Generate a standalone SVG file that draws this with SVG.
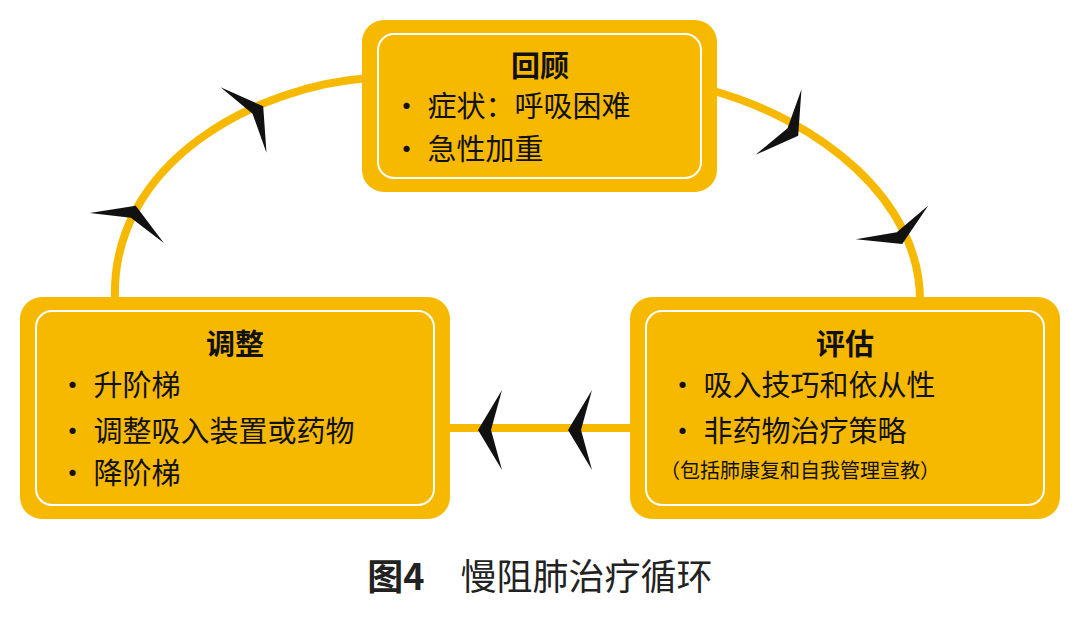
<svg xmlns="http://www.w3.org/2000/svg" width="1080" height="625" viewBox="0 0 1080 625">
<style>
.box{fill:#F7B900}
.inner{fill:none;stroke:#fff;stroke-width:2}
.t{font-family:"Noto Sans CJK SC","Noto Sans",sans-serif;font-size:29px;fill:#111}
.h{font-weight:bold}
.s{font-size:20px}
.cyc{fill:none;stroke:#F7B900;stroke-width:8}
</style>
<defs><path id="chev" d="M-14,-40 L10,0 L-14,40 L-3,0 Z" fill="#111"/></defs>
<rect width="1080" height="625" fill="#fff"/>
<g id="connectors">
<path class="cyc" d="M370,78 C260,85 110,160 115,300"/>
<path class="cyc" d="M710,90 C820,120 920,200 920,300"/>
<line class="cyc" x1="445" y1="428" x2="635" y2="428"/>
<use href="#chev" transform="translate(255,112) rotate(-35)"/>
<use href="#chev" transform="translate(132,215) rotate(-68)"/>
<use href="#chev" transform="translate(790,130) rotate(35)"/>
<use href="#chev" transform="translate(898,235) rotate(65)"/>
<use href="#chev" transform="translate(488,430) rotate(180)"/>
<use href="#chev" transform="translate(578,430) rotate(180)"/>
</g>
<g id="review">
<rect class="box" x="362" y="20" width="355" height="172" rx="22"/>
<rect class="inner" x="378" y="34" width="323" height="144" rx="16"/>
<text class="t h" x="540" y="77" text-anchor="middle">回顾</text>
<text class="t" x="392" y="117">•  症状：呼吸困难</text>
<text class="t" x="392" y="160">•  急性加重</text>
</g>
<g id="adjust">
<rect class="box" x="20" y="297" width="430" height="222" rx="22"/>
<rect class="inner" x="36" y="311" width="398" height="194" rx="16"/>
<text class="t h" x="235" y="355" text-anchor="middle">调整</text>
<text class="t" x="58" y="396">•  升阶梯</text>
<text class="t" x="58" y="442">•  调整吸入装置或药物</text>
<text class="t" x="58" y="484">•  降阶梯</text>
</g>
<g id="evaluate">
<rect class="box" x="630" y="297" width="430" height="222" rx="22"/>
<rect class="inner" x="646" y="311" width="398" height="194" rx="16"/>
<text class="t h" x="845" y="355" text-anchor="middle">评估</text>
<text class="t" x="668" y="396">•  吸入技巧和依从性</text>
<text class="t" x="668" y="442">•  非药物治疗策略</text>
<text class="t s" x="660" y="478">（包括肺康复和自我管理宣教）</text>
</g>
<text x="540" y="590" text-anchor="middle" style="font-family:'Noto Sans CJK SC',serif;font-size:36px;fill:#222"><tspan font-weight="bold">图4</tspan>　慢阻肺治疗循环</text>
</svg>
